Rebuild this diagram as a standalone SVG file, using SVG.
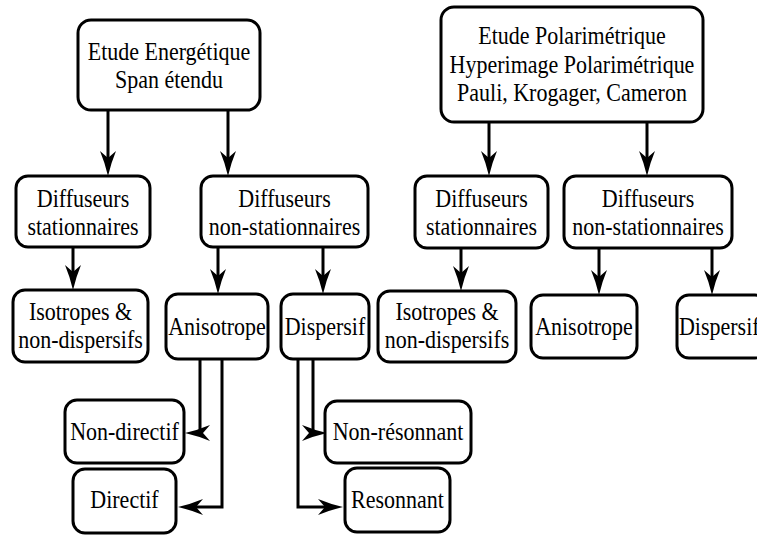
<svg xmlns="http://www.w3.org/2000/svg" width="757" height="537" viewBox="0 0 757 537">
<style>
.box{fill:#fff;stroke:#000;stroke-width:3}
.c{fill:none;stroke:#000;stroke-width:3}
</style>
<defs>
<marker id="ah" markerUnits="userSpaceOnUse" viewBox="-13 -9 27 18" refX="0" refY="0" markerWidth="27" markerHeight="18" orient="auto">
<path d="M13,0 Q0,-3 -12,-8 L-5,0 L-12,8 Q0,3 13,0 Z" fill="#000"/>
</marker>
</defs>
<rect width="757" height="537" fill="#fff"/>
<g id="connectors">
<path class="c" d="M108,110 V163" marker-end="url(#ah)"/>
<path class="c" d="M228,110 V163" marker-end="url(#ah)"/>
<path class="c" d="M73,247 V277" marker-end="url(#ah)"/>
<path class="c" d="M218,247 V281" marker-end="url(#ah)"/>
<path class="c" d="M323,247 V281" marker-end="url(#ah)"/>
<path class="c" d="M200,359 V433 H198" marker-end="url(#ah)"/>
<path class="c" d="M222,359 V507 H191" marker-end="url(#ah)" stroke-width="3.5"/>
<path class="c" d="M313,359 V433 H314" marker-end="url(#ah)"/>
<path class="c" d="M298,359 V507 H330" marker-end="url(#ah)" stroke-width="3.5"/>
<path class="c" d="M489,122 V163" marker-end="url(#ah)"/>
<path class="c" d="M647,122 V163" marker-end="url(#ah)"/>
<path class="c" d="M461,248 V278" marker-end="url(#ah)"/>
<path class="c" d="M599,248 V282" marker-end="url(#ah)"/>
<path class="c" d="M712,248 V282" marker-end="url(#ah)"/>
</g>
<g id="energetique">
<rect class="box" x="78" y="20" width="182" height="90" rx="13"/>
<text font-family="'Liberation Serif', serif" font-size="22" text-anchor="middle" x="169" y="0" transform="translate(0,60) scale(1,1.1)">Etude Energétique</text>
<text font-family="'Liberation Serif', serif" font-size="22" text-anchor="middle" x="169" y="0" transform="translate(0,88) scale(1,1.1)">Span étendu</text>
</g>
<g id="diff-stat-1">
<rect class="box" x="16" y="176" width="134" height="71" rx="12"/>
<text font-family="'Liberation Serif', serif" font-size="22" text-anchor="middle" x="83" y="0" transform="translate(0,207) scale(1,1.1)">Diffuseurs</text>
<text font-family="'Liberation Serif', serif" font-size="22" text-anchor="middle" x="83" y="0" transform="translate(0,235) scale(1,1.1)">stationnaires</text>
</g>
<g id="diff-nonstat-1">
<rect class="box" x="201" y="176" width="167" height="71" rx="12"/>
<text font-family="'Liberation Serif', serif" font-size="22" text-anchor="middle" x="284.5" y="0" transform="translate(0,207) scale(1,1.1)">Diffuseurs</text>
<text font-family="'Liberation Serif', serif" font-size="22" text-anchor="middle" x="284.5" y="0" transform="translate(0,235) scale(1,1.1)">non-stationnaires</text>
</g>
<g id="isotropes-1">
<rect class="box" x="13" y="290" width="135" height="72" rx="12"/>
<text font-family="'Liberation Serif', serif" font-size="22" text-anchor="middle" x="80.5" y="0" transform="translate(0,320) scale(1,1.1)">Isotropes &amp;</text>
<text font-family="'Liberation Serif', serif" font-size="22" text-anchor="middle" x="80.5" y="0" transform="translate(0,348) scale(1,1.1)">non-dispersifs</text>
</g>
<g id="anisotrope-1">
<rect class="box" x="166" y="294" width="102" height="65" rx="12"/>
<text font-family="'Liberation Serif', serif" font-size="22" text-anchor="middle" x="217" y="0" transform="translate(0,335) scale(1,1.1)">Anisotrope</text>
</g>
<g id="dispersif-1">
<rect class="box" x="281" y="294" width="88" height="65" rx="12"/>
<text font-family="'Liberation Serif', serif" font-size="22" text-anchor="middle" x="325" y="0" transform="translate(0,335) scale(1,1.1)">Dispersif</text>
</g>
<g id="non-directif">
<rect class="box" x="65" y="400" width="119" height="63" rx="12"/>
<text font-family="'Liberation Serif', serif" font-size="22" text-anchor="middle" x="124.5" y="0" transform="translate(0,440) scale(1,1.1)">Non-directif</text>
</g>
<g id="directif">
<rect class="box" x="73" y="469" width="103" height="64" rx="12"/>
<text font-family="'Liberation Serif', serif" font-size="22" text-anchor="middle" x="124.5" y="0" transform="translate(0,508) scale(1,1.1)">Directif</text>
</g>
<g id="non-resonnant">
<rect class="box" x="325" y="401" width="146" height="62" rx="12"/>
<text font-family="'Liberation Serif', serif" font-size="22" text-anchor="middle" x="398" y="0" transform="translate(0,440) scale(1,1.1)">Non-résonnant</text>
</g>
<g id="resonnant">
<rect class="box" x="345" y="468" width="105" height="64" rx="12"/>
<text font-family="'Liberation Serif', serif" font-size="22" text-anchor="middle" x="397.5" y="0" transform="translate(0,508) scale(1,1.1)">Resonnant</text>
</g>
<g id="polarimetrique">
<rect class="box" x="441" y="7" width="262" height="115" rx="13"/>
<text font-family="'Liberation Serif', serif" font-size="22" text-anchor="middle" x="572" y="0" transform="translate(0,44) scale(1,1.1)">Etude Polarimétrique</text>
<text font-family="'Liberation Serif', serif" font-size="22" text-anchor="middle" x="572" y="0" transform="translate(0,72.5) scale(1,1.1)">Hyperimage Polarimétrique</text>
<text font-family="'Liberation Serif', serif" font-size="22" text-anchor="middle" x="572" y="0" transform="translate(0,101) scale(1,1.1)">Pauli, Krogager, Cameron</text>
</g>
<g id="diff-stat-2">
<rect class="box" x="415" y="176" width="133" height="72" rx="12"/>
<text font-family="'Liberation Serif', serif" font-size="22" text-anchor="middle" x="481.5" y="0" transform="translate(0,207) scale(1,1.1)">Diffuseurs</text>
<text font-family="'Liberation Serif', serif" font-size="22" text-anchor="middle" x="481.5" y="0" transform="translate(0,235) scale(1,1.1)">stationnaires</text>
</g>
<g id="diff-nonstat-2">
<rect class="box" x="564" y="176" width="168" height="72" rx="12"/>
<text font-family="'Liberation Serif', serif" font-size="22" text-anchor="middle" x="648" y="0" transform="translate(0,207) scale(1,1.1)">Diffuseurs</text>
<text font-family="'Liberation Serif', serif" font-size="22" text-anchor="middle" x="648" y="0" transform="translate(0,235) scale(1,1.1)">non-stationnaires</text>
</g>
<g id="isotropes-2">
<rect class="box" x="378" y="291" width="138" height="71" rx="12"/>
<text font-family="'Liberation Serif', serif" font-size="22" text-anchor="middle" x="447" y="0" transform="translate(0,320) scale(1,1.1)">Isotropes &amp;</text>
<text font-family="'Liberation Serif', serif" font-size="22" text-anchor="middle" x="447" y="0" transform="translate(0,348) scale(1,1.1)">non-dispersifs</text>
</g>
<g id="anisotrope-2">
<rect class="box" x="531" y="295" width="106" height="63" rx="12"/>
<text font-family="'Liberation Serif', serif" font-size="22" text-anchor="middle" x="584" y="0" transform="translate(0,335) scale(1,1.1)">Anisotrope</text>
</g>
<g id="dispersif-2">
<rect class="box" x="677" y="295" width="90" height="63" rx="12"/>
<text font-family="'Liberation Serif', serif" font-size="22" x="679" y="0" transform="translate(0,335) scale(1,1.1)">Dispersif</text>
</g>
</svg>
